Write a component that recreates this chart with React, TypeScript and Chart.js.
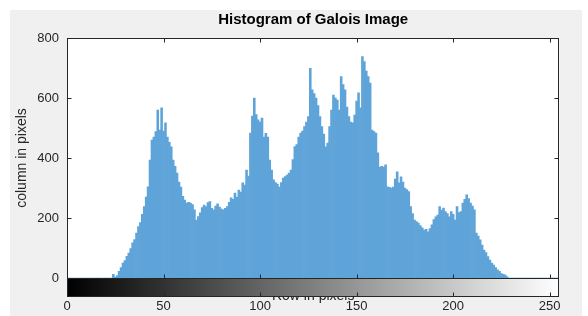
import React, { useEffect, useRef } from 'react';
import { Chart, registerables } from 'chart.js';

Chart.register(...registerables);

const TITLE = 'Histogram of Galois Image';
const X_LABEL = 'Row in pixels';
const Y_LABEL = 'column in pixels';

// gray levels (bins) 0..255
const BINS: number[] = Array.from({ length: 256 }, (_, i) => i);

// pixel counts per gray level
const COUNTS: number[] = [
  0, 0, 0, 0, 0, 0, 0, 0, 0, 0, 0, 0, 0, 0, 0, 0,
  0, 0, 0, 0, 0, 0, 0, 0, 12, 3, 8, 22, 35, 50, 58, 72,
  83, 98, 117, 128, 150, 171, 185, 212, 238, 270, 304, 393, 460, 470, 488, 560,
  493, 567, 490, 517, 470, 452, 437, 393, 372, 350, 320, 303, 272, 260, 250, 252,
  250, 245, 227, 193, 205, 217, 235, 243, 238, 251, 255, 232, 227, 240, 247, 236,
  230, 227, 232, 238, 252, 267, 262, 283, 270, 293, 286, 317, 310, 360, 340, 483,
  540, 600, 545, 527, 520, 533, 470, 482, 470, 393, 360, 327, 318, 313, 303, 318,
  333, 338, 343, 350, 360, 395, 438, 445, 470, 483, 490, 505, 520, 538, 699, 627,
  615, 600, 575, 538, 505, 480, 437, 450, 505, 560, 610, 600, 593, 560, 671, 645,
  627, 570, 538, 520, 517, 543, 590, 617, 567, 738, 721, 690, 671, 650, 493, 488,
  483, 417, 370, 372, 370, 377, 304, 302, 300, 303, 330, 354, 317, 337, 320, 300,
  295, 288, 238, 215, 193, 188, 183, 175, 167, 160, 162, 154, 165, 177, 195, 204,
  210, 238, 226, 233, 221, 215, 204, 221, 212, 193, 238, 218, 221, 250, 262, 277,
  265, 250, 240, 227, 150, 140, 127, 110, 93, 85, 71, 60, 50, 43, 35, 27,
  22, 15, 12, 10, 4, 0, 0, 0, 0, 0, 0, 0, 0, 0, 0, 0,
  0, 0, 0, 0, 0, 0, 0, 0, 0, 0, 0, 0, 0, 0, 0, 0,
];

const X_TICKS: number[] = [0, 50, 100, 150, 200, 250];
const Y_TICKS: number[] = [0, 200, 400, 600, 800];

const AXIS = '#262626';
const FONT = "'Liberation Sans', Arial, Helvetica, sans-serif";
const CB_HEIGHT = 18;
const TICK_LEN = 4;

const framePlugin = {
  id: 'matlabFrame',
  beforeDatasetsDraw(chart: any) {
    const { ctx, chartArea: a } = chart;
    ctx.save();
    ctx.fillStyle = '#ffffff';
    ctx.fillRect(a.left, a.top, a.right - a.left, a.bottom - a.top);
    ctx.restore();
  },
  afterDatasetsDraw(chart: any) {
    const { ctx, chartArea: a, scales } = chart;
    const xs = scales.x;
    const ys = scales.y;
    const L = Math.round(a.left) + 0.5;
    const R = Math.round(a.right) - 0.5;
    const T = Math.round(a.top) + 0.5;
    const B = Math.round(a.bottom) + 0.5;
    const CB = B + CB_HEIGHT;

    ctx.save();
    // grayscale colour bar
    const g0 = xs.getPixelForValue(0);
    const g1 = xs.getPixelForValue(255);
    const grad = ctx.createLinearGradient(g0, 0, g1, 0);
    grad.addColorStop(0, '#000000');
    grad.addColorStop(1, '#ffffff');
    ctx.fillStyle = grad;
    ctx.fillRect(L, B, R - L, CB - B);

    ctx.strokeStyle = AXIS;
    ctx.lineWidth = 1;
    // histogram box
    ctx.strokeRect(L, T, R - L, B - T);
    // colour bar box
    ctx.strokeRect(L, B, R - L, CB - B);

    ctx.beginPath();
    // y ticks (left and right, inward)
    for (const v of Y_TICKS) {
      const y = Math.round(ys.getPixelForValue(v)) + 0.5;
      ctx.moveTo(L, y);
      ctx.lineTo(L + TICK_LEN, y);
      ctx.moveTo(R, y);
      ctx.lineTo(R - TICK_LEN, y);
    }
    // x ticks (top, bottom of histogram, bottom of colour bar)
    for (const v of X_TICKS) {
      const x = Math.round(xs.getPixelForValue(v)) + 0.5;
      ctx.moveTo(x, T);
      ctx.lineTo(x, T + TICK_LEN);
      ctx.moveTo(x, B);
      ctx.lineTo(x, B - TICK_LEN);
      ctx.moveTo(x, CB);
      ctx.lineTo(x, CB - TICK_LEN);
    }
    ctx.stroke();
    ctx.restore();
  },
};

export default function App() {
  const ref = useRef<HTMLCanvasElement | null>(null);

  useEffect(() => {
    const canvas = ref.current;
    if (!canvas) return;
    const chart = new Chart(canvas, {
      type: 'bar',
      data: {
        datasets: [
          {
            label: 'counts',
            data: BINS.map((b, i) => ({ x: b, y: COUNTS[i] })),
            backgroundColor: '#5fa4d9',
            borderWidth: 0,
            barPercentage: 1,
            categoryPercentage: 1,
          },
        ],
      },
      options: {
        responsive: false,
        maintainAspectRatio: false,
        animation: false,
        layout: { padding: { left: 0, right: 11, top: 0, bottom: 0 } },
        plugins: {
          legend: { display: false },
          tooltip: { enabled: false },
          title: {
            display: true,
            text: TITLE,
            fullSize: false,
            color: '#000000',
            font: { family: FONT, size: 15, weight: 'bold' },
            padding: { top: 1, bottom: 9 },
          },
        },
        scales: {
          x: {
            type: 'linear',
            offset: false,
            min: 0,
            max: 255,
            z: 1,
            grid: { display: false, drawTicks: false },
            border: { display: false },
            afterBuildTicks: (scale: any) => {
              scale.ticks = X_TICKS.map((v) => ({ value: v }));
            },
            afterFit: (scale: any) => {
              scale.height = 38;
            },
            ticks: {
              color: AXIS,
              padding: 21,
              maxRotation: 0,
              autoSkip: false,
              font: { family: FONT, size: 13 },
            },
            title: {
              display: true,
              text: X_LABEL,
              color: AXIS,
              font: { family: FONT, size: 14 },
              padding: { top: 0, bottom: 11.6 },
            },
          },
          y: {
            type: 'linear',
            min: 0,
            max: 800,
            grid: { display: false, drawTicks: false },
            border: { display: false },
            afterBuildTicks: (scale: any) => {
              scale.ticks = Y_TICKS.map((v) => ({ value: v }));
            },
            afterFit: (scale: any) => {
              scale.width = 57;
            },
            ticks: {
              color: AXIS,
              padding: 8,
              font: { family: FONT, size: 13 },
            },
            title: {
              display: true,
              text: Y_LABEL,
              color: AXIS,
              font: { family: FONT, size: 14 },
              padding: { top: 3.6, bottom: 0 },
            },
          },
        },
      },
      plugins: [framePlugin],
    });
    return () => chart.destroy();
  }, []);

  return (
    <div
      style={{
        position: 'absolute',
        left: 10,
        top: 10,
        width: 572,
        height: 306,
        background: '#f0f0f0',
      }}
    >
      <canvas ref={ref} width={572} height={306} style={{ display: 'block' }} />
    </div>
  );
}
